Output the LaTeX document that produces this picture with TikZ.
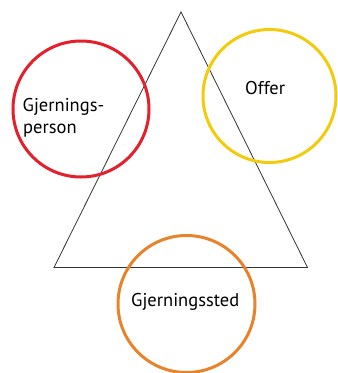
\documentclass[tikz,border=0pt]{standalone}
\usepackage{fontspec}
\setmainfont{PT Sans}
\definecolor{cred}{HTML}{E3202B}
\definecolor{cyellow}{HTML}{F1CB0C}
\definecolor{corange}{HTML}{E9832B}
\definecolor{tri}{HTML}{333333}
\begin{document}
\begin{tikzpicture}[x=1pt,y=-1pt,
  ring/.style={draw,circle,line width=3pt,inner sep=0pt},
  lbl/.style={anchor=base west,inner sep=0pt,font=\fontsize{18.5}{22}\selectfont,text=black}]
\useasboundingbox (0,0) rectangle (338,373);
\coordinate (A) at (181,12);
\coordinate (B) at (54,267.5);
\coordinate (C) at (307.5,267.5);
\draw[tri,line width=0.8pt,line join=miter] (A) -- (B) -- (C) -- cycle;
\node[ring,draw=cred,minimum size=136pt] (perp) at (81,109) {};
\node[ring,draw=cyellow,minimum size=133pt] (victim) at (269.5,96) {};
\node[ring,draw=corange,minimum size=137pt] (scene) at (186.5,304) {};
\node[lbl] (t1) at (22.5,111) {Gjernings-};
\node[lbl] (t2) at (23,133) {person};
\node[lbl] (t3) at (245,94) {Offer};
\node[lbl] (t4) at (131,306.5) {Gjerningssted};
\end{tikzpicture}
\end{document}
